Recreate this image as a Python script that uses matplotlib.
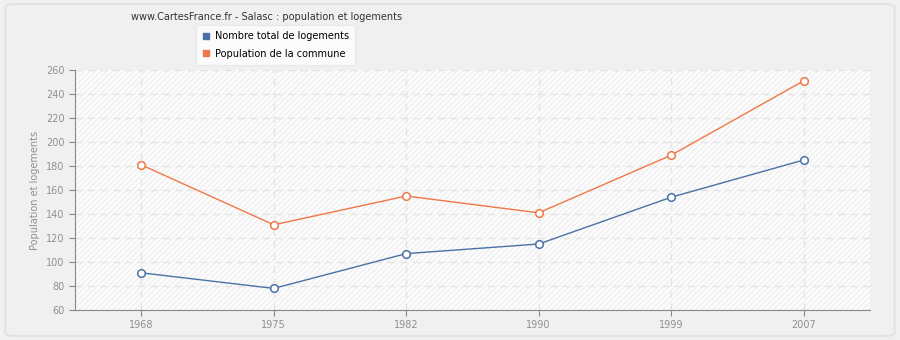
import matplotlib
matplotlib.use('Agg')
import matplotlib.pyplot as plt
from matplotlib.patches import FancyBboxPatch, Rectangle
from matplotlib.lines import Line2D

# Data
years = ['1968', '1975', '1982', '1990', '1999', '2007']
logements = [91, 78, 107, 115, 154, 185]
population = [181, 131, 155, 141, 189, 251]
yticks = [60, 80, 100, 120, 140, 160, 180, 200, 220, 240, 260]

blue = '#4a72a6'
orange = '#ef7848'
txt = '#909090'

fig = plt.figure(figsize=(9, 3.4), dpi=100)
fig.patch.set_facecolor('#f0f0f0')

# rounded outer frame
frame = FancyBboxPatch((0.006, 0.012), 0.988, 0.976, boxstyle='round,pad=0,rounding_size=0.01',
                       transform=fig.transFigure, facecolor='#f0f0f0',
                       edgecolor='#e2e2e2', linewidth=1.5, zorder=-10)
fig.patches.append(frame)

ax = fig.add_axes([0.0833, 0.0882, 0.8833, 0.7059])
ax.set_facecolor('#fcfcfc')

x = list(range(len(years)))
ax.set_xlim(-0.5, len(years) - 0.5)
ax.set_ylim(60, 260)

# hatched background
ax.add_patch(Rectangle((0, 0), 1, 1, transform=ax.transAxes, facecolor='none',
                       edgecolor='#f0f0f0', hatch='//////', linewidth=0, zorder=0))

ax.grid(True, color='#e4e4e4', linestyle=(0, (5, 4)), linewidth=1)
ax.set_axisbelow(True)

ax.plot(x, logements, color=blue, linewidth=1, marker='o', markersize=5.5,
        markerfacecolor='white', markeredgecolor=blue, markeredgewidth=1.1, zorder=3)
ax.plot(x, population, color=orange, linewidth=1, marker='o', markersize=5.5,
        markerfacecolor='white', markeredgecolor=orange, markeredgewidth=1.1, zorder=3)

ax.set_xticks(x)
ax.set_xticklabels(years)
ax.set_yticks(yticks)
ax.tick_params(colors='#888888', labelcolor=txt, labelsize=7, length=4)
for s in ['top', 'right']:
    ax.spines[s].set_visible(False)
for s in ['left', 'bottom']:
    ax.spines[s].set_color('#888888')
ax.set_ylabel('Population et logements', color=txt, fontsize=7)

fig.text(0.296, 0.95, 'www.CartesFrance.fr - Salasc : population et logements',
         ha='center', va='center', fontsize=7, color='#333333')

handles = [Line2D([], [], marker='s', linestyle='none', color=blue, markersize=4),
           Line2D([], [], marker='s', linestyle='none', color=orange, markersize=4)]
leg = fig.legend(handles, ['Nombre total de logements', 'Population de la commune'],
                 loc='upper left', bbox_to_anchor=(0.212, 0.94), fontsize=7,
                 frameon=True, fancybox=True, handlelength=1, handletextpad=0.4,
                 borderpad=0.6, labelspacing=0.8)
leg.get_frame().set_facecolor('white')
leg.get_frame().set_edgecolor('#e8e8e8')

fig.savefig('out.png', dpi=100, facecolor=fig.get_facecolor())
